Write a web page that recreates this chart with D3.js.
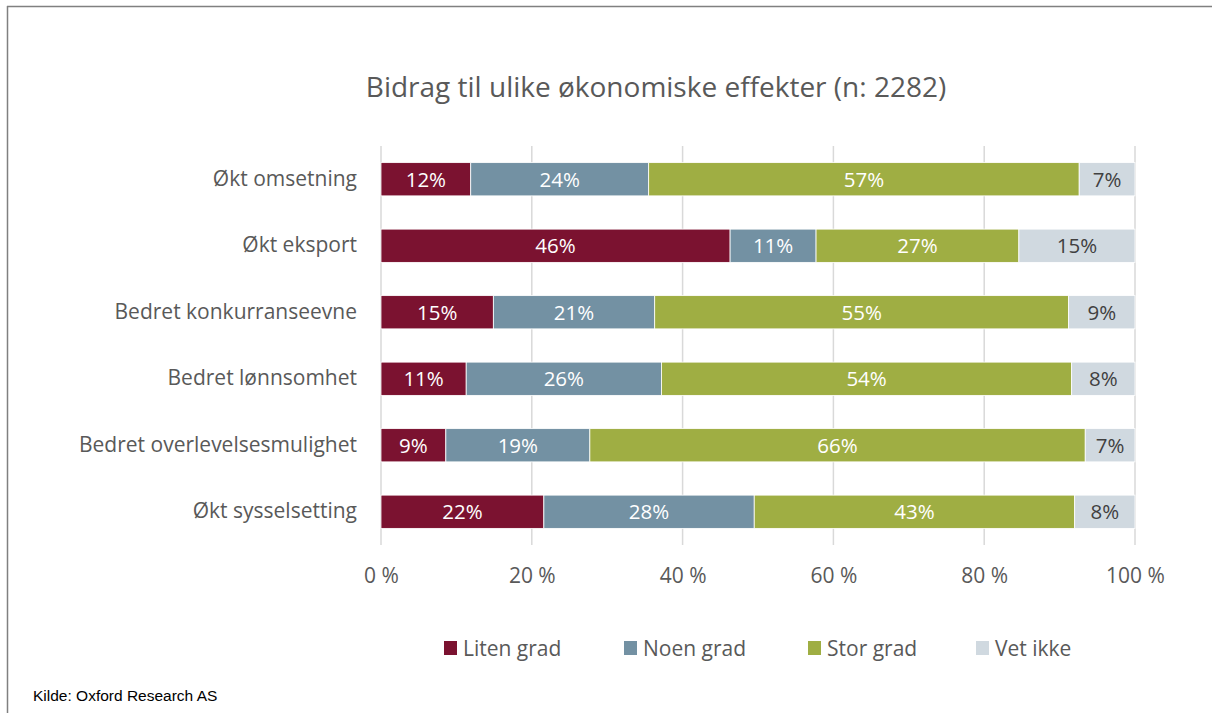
<!DOCTYPE html>
<html>
<head>
<meta charset="utf-8">
<script src="https://cdn.jsdelivr.net/npm/d3@7"></script>
<style>
  body { margin: 0; background: #fff; }
  svg text { font-family: "Open Sans", Lato, sans-serif; }
</style>
</head>
<body>
<div id="chart"></div>
<script>
// categories top to bottom
const categories = ["Økt omsetning", "Økt eksport", "Bedret konkurranseevne",
  "Bedret lønnsomhet", "Bedret overlevelsesmulighet", "Økt sysselsetting"];
const seriesNames = ["Liten grad", "Noen grad", "Stor grad", "Vet ikke"];
const litenGrad = [11.9, 46.3, 14.9, 11.3, 8.6, 21.6];
const noenGrad  = [23.6, 11.4, 21.4, 25.9, 19.1, 27.9];
const storGrad  = [57.1, 26.9, 54.9, 54.4, 65.7, 42.5];
const vetIkke   = [7.4, 15.4, 8.8, 8.4, 6.6, 8.0];
const xTicks = [0, 20, 40, 60, 80, 100];

const colors = ["#7b1230", "#7391a3", "#9fae43", "#d0d9e0"];
const labelColors = ["#fff", "#fff", "#fff", "#404040"];

const width = 1212, height = 713;
const margin = { top: 146, right: 77, bottom: 168, left: 381 };
const w = width - margin.left - margin.right;
const h = height - margin.top - margin.bottom;

const svg = d3.select("#chart").append("svg")
  .attr("width", width).attr("height", height);

// frame: top and left lines only
svg.append("line").attr("x1", 7).attr("x2", width).attr("y1", 6.5).attr("y2", 6.5)
  .attr("stroke", "#808080").attr("stroke-width", 1.5);
svg.append("line").attr("x1", 7.5).attr("x2", 7.5).attr("y1", 6).attr("y2", height)
  .attr("stroke", "#808080").attr("stroke-width", 1.5);

svg.append("text")
  .attr("x", 656).attr("y", 97)
  .attr("text-anchor", "middle")
  .style("font-size", "28px").style("fill", "#595959")
  .text("Bidrag til ulike økonomiske effekter (n: 2282)");

const g = svg.append("g").attr("transform", `translate(${margin.left},${margin.top})`);

const x = d3.scaleLinear().domain([0, 100]).range([0, w]);
const y = d3.scaleBand().domain(categories).range([0, h]).paddingInner(0.5).paddingOuter(0.25);

// gridlines
g.selectAll(".grid").data(xTicks).enter().append("line")
  .attr("x1", d => x(d)).attr("x2", d => x(d))
  .attr("y1", 0).attr("y2", h)
  .attr("stroke", "#d9d9d9").attr("stroke-width", 1.5);

// build stacked rows
const rows = categories.map((c, i) => {
  const vals = [litenGrad[i], noenGrad[i], storGrad[i], vetIkke[i]];
  let acc = 0;
  return vals.map((v, k) => {
    const seg = { cat: c, k: k, v: v, x0: acc, x1: acc + v };
    acc += v;
    return seg;
  });
}).flat();

g.selectAll(".bar").data(rows).enter().append("rect")
  .attr("x", d => x(d.x0))
  .attr("width", d => x(d.x1) - x(d.x0))
  .attr("y", d => y(d.cat))
  .attr("height", y.bandwidth())
  .attr("fill", d => colors[d.k])
  .attr("stroke", "#fff").attr("stroke-width", 0.8);

g.selectAll(".lbl").data(rows).enter().append("text")
  .attr("x", d => x((d.x0 + d.x1) / 2))
  .attr("y", d => y(d.cat) + y.bandwidth() / 2)
  .attr("dy", "0.36em")
  .attr("text-anchor", "middle")
  .style("font-size", "20.5px")
  .style("fill", d => labelColors[d.k])
  .text(d => Math.round(d.v) + "%");

// axes
const yAxis = g.append("g").call(d3.axisLeft(y).tickSize(0).tickPadding(24));
yAxis.select(".domain").remove();
yAxis.selectAll("text").style("font-size", "21px").style("fill", "#595959");

const xAxis = g.append("g").attr("transform", `translate(0,${h})`)
  .call(d3.axisBottom(x).tickValues(xTicks).tickSize(0).tickPadding(23).tickFormat(d => d + " %"));
xAxis.select(".domain").remove();
xAxis.selectAll("text").style("font-size", "21px").style("fill", "#595959");

// legend
const legendX = [444, 624, 808, 976];
const legend = svg.selectAll(".leg").data(seriesNames).enter().append("g")
  .attr("transform", (d, i) => `translate(${legendX[i]},641)`);
legend.append("rect").attr("width", 13).attr("height", 14).attr("fill", (d, i) => colors[i]);
legend.append("text").attr("x", 19).attr("y", 7).attr("dy", "0.36em")
  .style("font-size", "21px").style("fill", "#595959").text(d => d);

svg.append("text").attr("x", 33).attr("y", 701)
  .style("font-family", "'Liberation Sans Narrow', 'Arial Narrow', Arial, sans-serif")
  .style("font-size", "15.5px").style("fill", "#000")
  .text("Kilde: Oxford Research AS");
</script>
</body>
</html>
